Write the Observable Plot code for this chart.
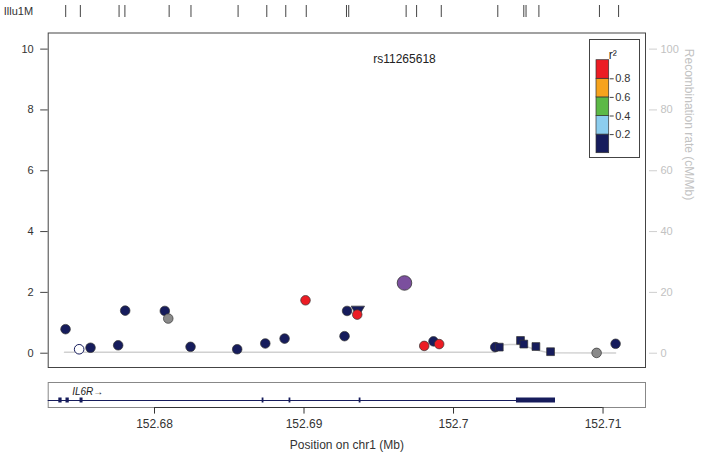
<!DOCTYPE html>
<html>
<head>
<meta charset="utf-8">
<script src="https://cdn.jsdelivr.net/npm/d3@7"></script>
<script src="https://cdn.jsdelivr.net/npm/@observablehq/plot@0.6"></script>
<style>
  body { margin: 0; background: #fff; }
  #chart { position: relative; width: 711px; height: 459px; font-family: "Liberation Sans", Arial, sans-serif; }
  #chart svg { position: absolute; left: 0; background: transparent; overflow: visible; max-width: none; }
</style>
</head>
<body>
<div id="chart"></div>
<script>
// ---- Region and axes ----
const xDomain = [152.67289, 152.71284];          // Mb, visible window on chr1
const xTicks = [152.68, 152.69, 152.70, 152.71];
const yTicks = [0, 2, 4, 6, 8, 10];              // -log10(p); right axis shows x10 as cM/Mb

// ---- SNPs on the Illumina 1M array ----
const illuminaPos = [
  152.67406, 152.67504, 152.67763, 152.67802, 152.68098, 152.68244, 152.68559,
  152.68751, 152.68878, 152.69015, 152.69284, 152.69299, 152.69683, 152.69753,
  152.69918, 152.70296, 152.70470, 152.70485, 152.70571, 152.70976, 152.71104
];

// ---- Association results ----
const snpPos = [
  152.67405, 152.67496, 152.67572, 152.67757, 152.67804, 152.68069, 152.68092,
  152.68241, 152.68553, 152.68741, 152.68870, 152.69010, 152.69271, 152.69288,
  152.69360, 152.69356, 152.69804, 152.69866, 152.69904, 152.70279, 152.70306,
  152.70448, 152.70470, 152.70551, 152.70649, 152.70957, 152.71084
];
const snpLogP = [
  0.79, 0.13, 0.18, 0.26, 1.40, 1.39, 1.14,
  0.21, 0.13, 0.32, 0.48, 1.74, 0.56, 1.39,
  1.42, 1.27, 0.24, 0.39, 0.30, 0.20, 0.20,
  0.42, 0.30, 0.22, 0.05, 0.01, 0.31
];
// r² with the reference SNP (null = not available)
const snpR2 = [
  0.1, 0.1, 0.1, 0.1, 0.1, 0.1, null,
  0.1, 0.1, 0.1, 0.1, 0.9, 0.1, 0.1,
  0.1, 0.9, 0.9, 0.1, 0.9, 0.1, 0.1,
  0.1, 0.1, 0.1, 0.1, null, 0.1
];
const snpShape = [
  "circle", "open", "circle", "circle", "circle", "circle", "circle",
  "circle", "circle", "circle", "circle", "circle", "circle", "circle",
  "triangle", "circle", "circle", "circle", "circle", "circle", "square",
  "square", "square", "square", "square", "circle", "circle"
];

// Reference SNP
const refName = "rs11265618";
const refPos = 152.69672;
const refLogP = 2.31;

// ---- Recombination rate (cM/Mb) ----
const recombPos  = [152.67398, 152.70274, 152.70334, 152.70442, 152.70562, 152.70636, 152.71084];
const recombRate = [0.35, 0.35, 2.8, 2.9, 1.0, 0.15, 0.1];

// ---- Gene track ----
const geneName = "IL6R";
const geneStart = 152.6447, geneEnd = 152.70682;
const exonStart = [152.67360, 152.67408, 152.67502, 152.68720, 152.68900, 152.69369, 152.70421];
const exonEnd   = [152.67382, 152.67430, 152.67522, 152.68732, 152.68912, 152.69381, 152.70682];

// ---- LD colour bins ----
const ldBreaks = [0.2, 0.4, 0.6, 0.8];
const ldColors = ["#161c5c", "#8ccdee", "#5cb946", "#f6a31d", "#ec1c24"];
const missingColor = "#8a8a8a";
const refColor = "#7b4f9e";
const navy = "#161c5c";

const font = '"Liberation Sans", Arial, sans-serif';
const ldColor = r2 => r2 == null ? missingColor : ldColors[d3.bisect(ldBreaks, r2)];

const snps = snpPos.map((pos, i) => ({pos, logp: snpLogP[i], r2: snpR2[i], shape: snpShape[i]}));
const recomb = recombPos.map((pos, i) => ({pos, rate: recombRate[i]}));
const exons = exonStart.map((s, i) => ({start: s, end: exonEnd[i]}));
const genes = [{name: geneName, start: geneStart, end: geneEnd}];
const geneRow = 0.28;

const chart = document.getElementById("chart");
function place(svg, left, top) {
  svg.style.left = left + "px";
  svg.style.top = top + "px";
  chart.appendChild(svg);
}

// Array track along the top
const strip = Plot.plot({
  width: 711, height: 22,
  marginLeft: 47.7, marginRight: 66, marginTop: 5, marginBottom: 5,
  style: {fontFamily: font, background: "transparent"},
  x: {domain: xDomain, axis: null},
  marks: [
    Plot.tickX(illuminaPos, {x: d => d, stroke: "#444", strokeWidth: 1}),
    Plot.text(["Illu1M"], {frameAnchor: "left", dx: -44.5, textAnchor: "start", fontSize: 11, fill: "#333"})
  ]
});
place(strip, 0, 0);

// Association panel
const main = Plot.plot({
  width: 711, height: 372,
  marginLeft: 47.7, marginRight: 66, marginTop: 32.5, marginBottom: 5,
  style: {fontFamily: font, fontSize: "11px", background: "transparent"},
  x: {domain: xDomain, axis: null},
  y: {domain: [-0.47, 10.53]},
  color: {type: "identity"},
  marks: [
    Plot.axisY({ticks: yTicks, tickSize: 7.5, tickPadding: 7, label: null, stroke: "#444", fill: "#333", fontSize: 11}),
    Plot.axisY({anchor: "right", ticks: yTicks, tickFormat: d => d * 10, tickSize: 8, tickPadding: 4, dx: 3,
                label: null, stroke: "#cfcfcf", fill: "#c2c2c2", fontSize: 11}),
    Plot.text(["Recombination rate (cM/Mb)"], {frameAnchor: "right", dx: 43, rotate: 90, fill: "#c2c2c2", fontSize: 12}),
    Plot.line(recomb, {x: "pos", y: d => d.rate / 10, stroke: "#d0d0d0", strokeWidth: 1.5}),
    Plot.dot(snps.filter(d => d.shape === "triangle"), {
      x: "pos", y: "logp", symbol: "triangle", rotate: 180, r: 5,
      fill: d => ldColor(d.r2), stroke: "#333", strokeWidth: 0.7
    }),
    Plot.dot(snps.filter(d => d.shape === "circle" || d.shape === "open"), {
      x: "pos", y: "logp", r: 4.8,
      fill: d => d.shape === "open" ? "#ffffff" : ldColor(d.r2),
      stroke: d => d.shape === "open" ? navy : "#333", strokeWidth: d => d.shape === "open" ? 1 : 0.7
    }),
    Plot.dot(snps.filter(d => d.shape === "square"), {
      x: "pos", y: "logp", symbol: "square", r: 4.4,
      fill: d => ldColor(d.r2), stroke: "#333", strokeWidth: 0.7
    }),
    Plot.dot([{pos: refPos, logp: refLogP}], {x: "pos", y: "logp", r: 7.3, fill: refColor, stroke: "#333", strokeWidth: 0.8}),
    Plot.text([refName], {x: () => refPos, frameAnchor: "top", dy: 21.5, fontSize: 12, fill: "#222"}),
    Plot.frame({stroke: "#444"})
  ]
});
place(main, 0, 0);

// r² legend
const ldBins = [0, ...ldBreaks, 1].slice(0, -1).map((lo, i) => ({lo, hi: [...ldBreaks, 1][i], color: ldColors[i]}));
const legend = Plot.plot({
  width: 51, height: 119,
  marginLeft: 7, marginRight: 31.3, marginTop: 20.7, marginBottom: 5.3,
  style: {fontFamily: font, background: "#fff", outline: "1px solid #444", outlineOffset: "-1px"},
  x: {domain: [0, 1], axis: null},
  y: {domain: [0, 1]},
  color: {type: "identity"},
  marks: [
    Plot.rect(ldBins, {x1: 0, x2: 1, y1: "lo", y2: "hi", fill: "color", stroke: "#333", strokeWidth: 0.7}),
    Plot.axisY({anchor: "right", ticks: ldBreaks, tickFormat: d3.format(".1f"), tickSize: 4, tickPadding: 2,
                label: null, stroke: "#444", fill: "#333", fontSize: 11}),
    Plot.text(["r²"], {frameAnchor: "top", dx: 10, dy: -10, fontSize: 12, fill: "#222"})
  ]
});
place(legend, 589, 39);

// Gene track and position axis
const geneTrack = Plot.plot({
  width: 711, height: 83,
  marginLeft: 47.7, marginRight: 66, marginTop: 6, marginBottom: 52,
  style: {fontFamily: font, fontSize: "12px", background: "transparent"},
  x: {domain: xDomain},
  y: {domain: [0, 1], axis: null},
  marks: [
    Plot.frame({stroke: "#888"}),
    Plot.ruleY([0], {x1: xTicks[0], x2: xTicks[xTicks.length - 1], stroke: "#333"}),
    Plot.axisX({ticks: xTicks, tickFormat: d => String(+d.toFixed(2)), tickSize: 6.6, tickPadding: 5,
                label: null, stroke: "#333", fill: "#333", fontSize: 12}),
    Plot.ruleY(genes, {x1: "start", x2: "end", y: () => geneRow, stroke: navy, strokeWidth: 1.2, clip: true}),
    Plot.rect(exons, {x1: "start", x2: "end", y1: () => geneRow - 0.1, y2: () => geneRow + 0.1, fill: navy, clip: true}),
    Plot.text(genes, {text: d => d.name + "→", frameAnchor: "left", dx: 24, y: () => 0.62, textAnchor: "start",
                      fontStyle: "italic", fontSize: 10, fill: "#222"}),
    Plot.text(["Position on chr1 (Mb)"], {frameAnchor: "bottom", dy: 38, lineAnchor: "middle", fontSize: 12, fill: "#333"})
  ]
});
place(geneTrack, 0, 376);
</script>
</body>
</html>
